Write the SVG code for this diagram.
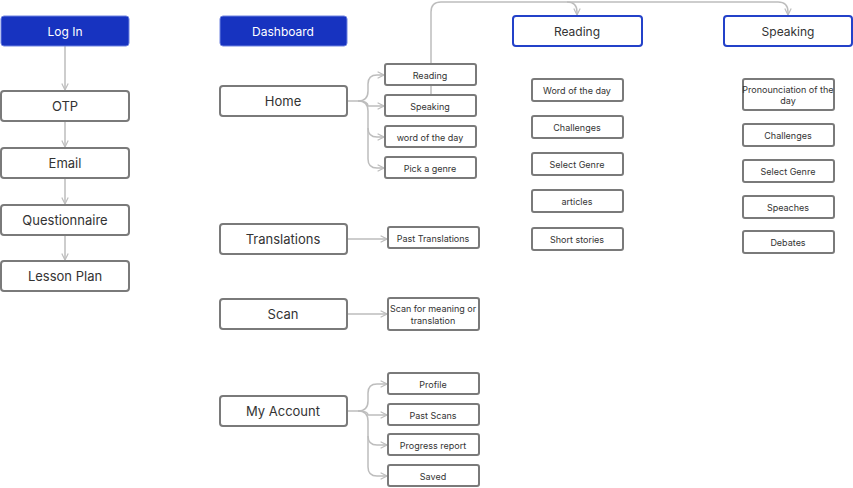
<svg xmlns="http://www.w3.org/2000/svg" width="853" height="488" viewBox="0 0 853 488">
<style>
text{font-family:Inter,"Liberation Sans",sans-serif;fill:#333;text-anchor:middle;dominant-baseline:central}
.b rect{fill:#fff;stroke:#7a7a7a;stroke-width:2}
.b text{font-size:13px}
.s rect{fill:#fff;stroke:#7a7a7a;stroke-width:2}
.s text{font-size:9px}
.f rect{fill:#1733c0;stroke:#6f83e0;stroke-width:1}
.f text{fill:#fff;font-size:12px}
.o rect{fill:#fff;stroke:#2341c9;stroke-width:2}
.o text{font-size:12px}
#c path{fill:none;stroke:#bdbdbd;stroke-width:1.5}
</style>
<defs><marker id="a" viewBox="0 0 10 10" refX="9" refY="5" markerWidth="8" markerHeight="8" orient="auto" markerUnits="userSpaceOnUse"><path d="M1,1 L9,5 L1,9" fill="none" stroke="#bdbdbd" stroke-width="1.5"/></marker></defs>
<g id="c">
<path d="M65,46 V90" marker-end="url(#a)"/>
<path d="M65,121 V147" marker-end="url(#a)"/>
<path d="M65,178 V204" marker-end="url(#a)"/>
<path d="M65,235 V260" marker-end="url(#a)"/>
<path d="M347,101 H358 Q368,101 368,91 V84 Q368,75 377,75 H384" marker-end="url(#a)"/>
<path d="M358,101 Q368,101 368,106 H384" marker-end="url(#a)"/>
<path d="M358,101 Q368,101 368,111 V128 Q368,137 377,137 H384" marker-end="url(#a)"/>
<path d="M368,128 V159 Q368,168 377,168 H384" marker-end="url(#a)"/>
<path d="M347,239 H387" marker-end="url(#a)"/>
<path d="M347,314 H387" marker-end="url(#a)"/>
<path d="M347,411 H358 Q368,411 368,401 V393 Q368,384 377,384 H387" marker-end="url(#a)"/>
<path d="M358,411 Q368,411 368,415 H387" marker-end="url(#a)"/>
<path d="M358,411 Q368,411 368,421 V436 Q368,445 377,445 H387" marker-end="url(#a)"/>
<path d="M368,436 V467 Q368,476 377,476 H387" marker-end="url(#a)"/>
<path d="M431,95 V12 Q431,2 441,2 H567 Q577,2 577,12 V15" marker-end="url(#a)"/>
<path d="M567,2 H778 Q788,2 788,12 V15" marker-end="url(#a)"/>
</g>
<g id="login" class="f"><rect x="1" y="16" width="128" height="30" rx="3"/><text x="65" y="31">Log In</text></g>
<g id="otp" class="b"><rect x="1" y="91" width="128" height="30" rx="3"/><text x="65" y="106">OTP</text></g>
<g id="email" class="b"><rect x="1" y="148" width="128" height="30" rx="3"/><text x="65" y="163">Email</text></g>
<g id="quest" class="b"><rect x="1" y="205" width="128" height="30" rx="3"/><text x="65" y="220">Questionnaire</text></g>
<g id="lesson" class="b"><rect x="1" y="261" width="128" height="30" rx="3"/><text x="65" y="276">Lesson Plan</text></g>
<g id="dash" class="f"><rect x="220" y="16" width="127" height="30" rx="3"/><text x="283" y="31">Dashboard</text></g>
<g id="home" class="b"><rect x="220" y="86" width="127" height="30" rx="3"/><text x="283" y="101">Home</text></g>
<g id="trans" class="b"><rect x="220" y="224" width="127" height="30" rx="3"/><text x="283" y="239">Translations</text></g>
<g id="scan" class="b"><rect x="220" y="299" width="127" height="30" rx="3"/><text x="283" y="314">Scan</text></g>
<g id="acct" class="b"><rect x="220" y="396" width="127" height="30" rx="3"/><text x="283" y="411">My Account</text></g>
<g id="h1" class="s"><rect x="385" y="64" width="91" height="21" rx="2"/><text x="430" y="75">Reading</text></g>
<g id="h2" class="s"><rect x="385" y="95" width="91" height="21" rx="2"/><text x="430" y="106">Speaking</text></g>
<g id="h3" class="s"><rect x="385" y="126" width="91" height="21" rx="2"/><text x="430" y="137">word of the day</text></g>
<g id="h4" class="s"><rect x="385" y="157" width="91" height="21" rx="2"/><text x="430" y="168">Pick a genre</text></g>
<g id="t1" class="s"><rect x="388" y="227" width="91" height="21" rx="2"/><text x="433" y="238">Past Translations</text></g>
<g id="sc1" class="s"><rect x="388" y="298" width="91" height="32" rx="2"/><text x="433" y="308">Scan for meaning or</text><text x="433" y="320">translation</text></g>
<g id="a1" class="s"><rect x="388" y="373" width="91" height="21" rx="2"/><text x="433" y="384">Profile</text></g>
<g id="a2" class="s"><rect x="388" y="404" width="91" height="21" rx="2"/><text x="433" y="415">Past Scans</text></g>
<g id="a3" class="s"><rect x="388" y="434" width="91" height="21" rx="2"/><text x="433" y="445">Progress report</text></g>
<g id="a4" class="s"><rect x="388" y="465" width="91" height="21" rx="2"/><text x="433" y="476">Saved</text></g>
<g id="read" class="o"><rect x="513" y="16" width="129" height="30" rx="3"/><text x="577" y="31">Reading</text></g>
<g id="speak" class="o"><rect x="724" y="16" width="128" height="30" rx="3"/><text x="788" y="31">Speaking</text></g>
<g id="r1" class="s"><rect x="532" y="79" width="91" height="22" rx="2"/><text x="577" y="90">Word of the day</text></g>
<g id="r2" class="s"><rect x="532" y="116" width="91" height="22" rx="2"/><text x="577" y="127">Challenges</text></g>
<g id="r3" class="s"><rect x="532" y="153" width="91" height="22" rx="2"/><text x="577" y="164">Select Genre</text></g>
<g id="r4" class="s"><rect x="532" y="190" width="91" height="22" rx="2"/><text x="577" y="201">articles</text></g>
<g id="r5" class="s"><rect x="532" y="228" width="91" height="22" rx="2"/><text x="577" y="239">Short stories</text></g>
<g id="p1" class="s"><rect x="743" y="79" width="91" height="31" rx="2"/><text x="788" y="89">Pronounciation of the</text><text x="788" y="100">day</text></g>
<g id="p2" class="s"><rect x="743" y="124" width="91" height="22" rx="2"/><text x="788" y="135">Challenges</text></g>
<g id="p3" class="s"><rect x="743" y="160" width="91" height="22" rx="2"/><text x="788" y="171">Select Genre</text></g>
<g id="p4" class="s"><rect x="743" y="196" width="91" height="22" rx="2"/><text x="788" y="207">Speaches</text></g>
<g id="p5" class="s"><rect x="743" y="231" width="91" height="22" rx="2"/><text x="788" y="242">Debates</text></g>
</svg>
